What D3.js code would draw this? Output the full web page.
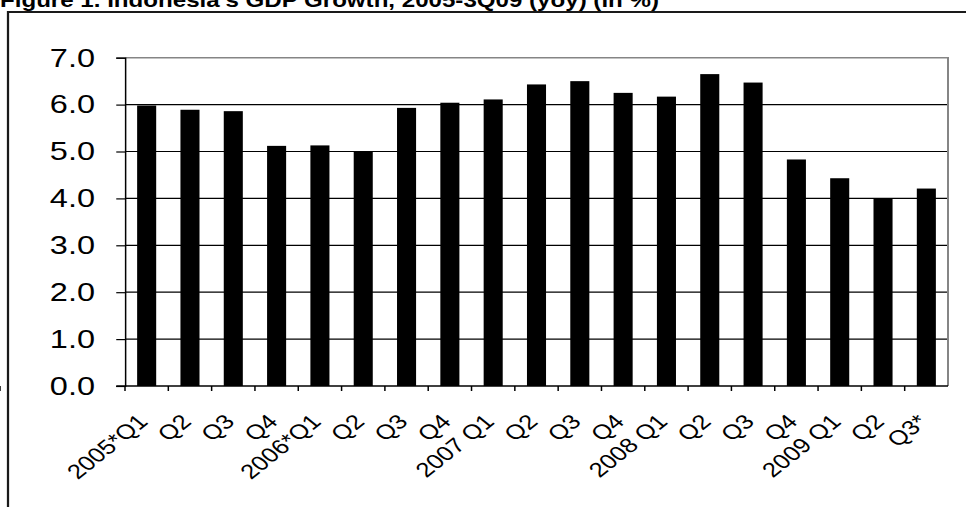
<!DOCTYPE html>
<html>
<head>
<meta charset="utf-8">
<script src="https://cdn.jsdelivr.net/npm/d3@7"></script>
<style>
  body { margin: 0; background: #fff; }
  svg { display: block; }
  text { font-family: "Liberation Sans", Arial, sans-serif; fill: #000; }
</style>
</head>
<body>
<div id="chart"></div>
<script>
// quarters and yoy growth (%)
const quarters = ["2005*Q1", "Q2", "Q3", "Q4", "2006*Q1", "Q2", "Q3", "Q4", "2007 Q1", "Q2",
  "Q3", "Q4", "2008 Q1", "Q2", "Q3", "Q4", "2009 Q1", "Q2", "Q3*"];
const growth = [5.98, 5.89, 5.86, 5.12, 5.13, 4.99, 5.93, 6.04, 6.11, 6.43,
  6.50, 6.25, 6.17, 6.65, 6.47, 4.83, 4.43, 4.00, 4.21];
const yTicks = [0, 1, 2, 3, 4, 5, 6, 7];
const title = "Figure 1. Indonesia's GDP Growth, 2005-3Q09 (yoy) (in %)";

// the original picture is stretched sideways, so draw in a narrower box and let the viewBox widen it
const W = 966, H = 507, stretch = 1.25;
const vw = W / stretch;

const svg = d3.select("#chart")
  .append("svg")
  .attr("width", W)
  .attr("height", H)
  .attr("viewBox", [0, 0, vw, H])
  .attr("preserveAspectRatio", "none");

const plot = { left: 100, right: 758.4, top: 57.7, bottom: 386 };

const x = d3.scaleBand()
  .domain(d3.range(quarters.length))
  .range([plot.left, plot.right])
  .paddingInner(0.56)
  .paddingOuter(0.28);

const y = d3.scaleLinear()
  .domain([0, 7])
  .range([plot.bottom, plot.top]);

// outer frame (left + top only)
svg.append("path")
  .attr("d", d3.line()([[6.4, H], [6.4, 12], [vw, 12]]))
  .attr("fill", "none")
  .attr("stroke", "#1a1a1a")
  .attr("stroke-width", 1.8);

svg.append("text")
  .attr("x", 0)
  .attr("y", 7)
  .attr("font-size", 19.3)
  .attr("font-weight", "bold")
  .text(title);

// gridlines
svg.append("g")
  .selectAll("line")
  .data(yTicks.filter(d => d > 0 && d < 7))
  .enter()
  .append("line")
  .attr("x1", plot.left)
  .attr("x2", plot.right)
  .attr("y1", d => y(d))
  .attr("y2", d => y(d))
  .attr("stroke", "#000")
  .attr("stroke-width", 1.2);

// plot area border: top and right in grey
svg.append("path")
  .attr("d", d3.line()([[plot.left, y(7)], [plot.right, y(7)], [plot.right, y(0)]]))
  .attr("fill", "none")
  .attr("stroke", "#858585")
  .attr("stroke-width", 1.6);

// bars
svg.append("g")
  .selectAll("rect")
  .data(growth)
  .enter()
  .append("rect")
  .attr("x", (d, i) => x(i))
  .attr("y", d => y(d))
  .attr("width", x.bandwidth())
  .attr("height", d => y(0) - y(d))
  .attr("fill", "#000");

// y axis
const yAxis = svg.append("g")
  .attr("transform", `translate(${plot.left},0)`)
  .call(d3.axisLeft(y).tickValues(yTicks).tickFormat(d3.format(".1f")).tickSize(7).tickPadding(17));
yAxis.select(".domain").attr("stroke", "#000").attr("stroke-width", 1.2);
yAxis.selectAll(".tick line").attr("stroke", "#000").attr("stroke-width", 1.2);
yAxis.selectAll(".tick text")
  .attr("font-size", 26)
  .attr("font-family", "Liberation Sans, Arial, sans-serif")
  .attr("fill", "#000");

// x axis line with ticks on category boundaries
const step = x.step();
const edge = i => x(i) - (step - x.bandwidth()) / 2;
svg.append("line")
  .attr("x1", plot.left - 7)
  .attr("x2", plot.right)
  .attr("y1", y(0))
  .attr("y2", y(0))
  .attr("stroke", "#000")
  .attr("stroke-width", 1.4);

svg.append("g")
  .selectAll("line")
  .data(d3.range(quarters.length + 1))
  .enter()
  .append("line")
  .attr("x1", i => edge(i))
  .attr("x2", i => edge(i))
  .attr("y1", y(0))
  .attr("y2", y(0) + 5)
  .attr("stroke", "#000")
  .attr("stroke-width", 1.2);

// rotated category labels
svg.append("g")
  .selectAll("text")
  .data(quarters)
  .enter()
  .append("text")
  .attr("transform", (d, i) => `translate(${x(i) + x.bandwidth() / 2 + 2},${y(0) + 37}) rotate(-45)`)
  .attr("text-anchor", "end")
  .attr("font-size", 20.5)
  .text(d => d);
</script>
</body>
</html>
